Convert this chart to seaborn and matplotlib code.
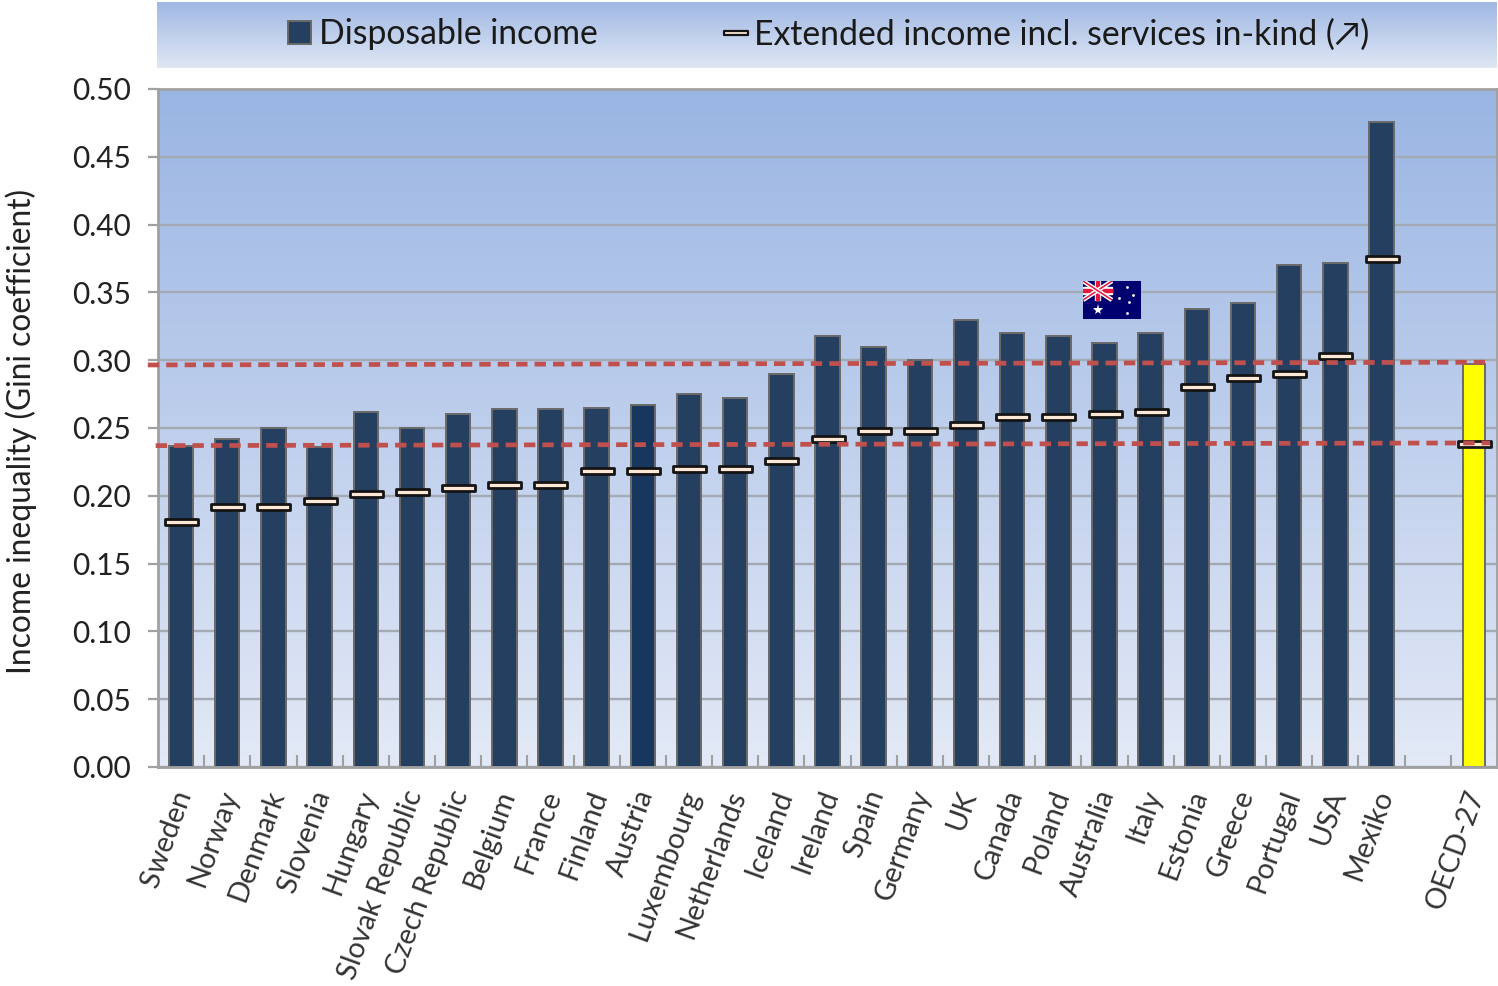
import matplotlib
matplotlib.use("Agg")
import matplotlib.pyplot as plt
import numpy as np
import pandas as pd
import seaborn as sns
from matplotlib.lines import Line2D
from matplotlib.markers import MarkerStyle
from matplotlib.patches import Patch, Rectangle
from matplotlib.path import Path
from matplotlib.ticker import MultipleLocator, FormatStrFormatter
from matplotlib.transforms import ScaledTranslation

countries = ["Sweden", "Norway", "Denmark", "Slovenia", "Hungary", "Slovak Republic",
             "Czech Republic", "Belgium", "France", "Finland", "Austria", "Luxembourg",
             "Netherlands", "Iceland", "Ireland", "Spain", "Germany", "UK", "Canada",
             "Poland", "Australia", "Italy", "Estonia", "Greece", "Portugal", "USA",
             "Mexiko", " ", "OECD-27"]
disposable = [0.237, 0.242, 0.250, 0.236, 0.262, 0.250, 0.260, 0.264, 0.264, 0.265,
              0.267, 0.275, 0.272, 0.290, 0.318, 0.310, 0.300, 0.330, 0.320, 0.318,
              0.313, 0.320, 0.338, 0.342, 0.370, 0.372, 0.476, np.nan, 0.297]
extended = [0.181, 0.192, 0.192, 0.196, 0.201, 0.203, 0.206, 0.208, 0.208, 0.218,
            0.218, 0.220, 0.220, 0.226, 0.242, 0.248, 0.248, 0.252, 0.258, 0.258,
            0.260, 0.262, 0.280, 0.287, 0.290, 0.303, 0.375, np.nan, 0.238]
oecd_disposable_line = [0.2965, 0.2985]
oecd_extended_line = [0.2370, 0.2390]

NAVY = "#243f60"
W, H = 1498, 986

sns.set_theme(style="white")
plt.rcParams["font.family"] = ["Lato", "DejaVu Sans"]
plt.rcParams["text.color"] = "#222222"

df = pd.DataFrame({"country": countries, "disposable": disposable, "extended": extended})
df["position"] = np.arange(len(df))

fig = plt.figure(figsize=(W / 100, H / 100), dpi=100, facecolor="white")
ax = fig.add_axes([158 / W, 1 - 767 / H, (1497 - 158) / W, (767 - 89) / H])

# Vertical blue wash behind the plot
gradient = np.linspace(0, 1, 256).reshape(-1, 1)
wash = matplotlib.colors.LinearSegmentedColormap.from_list("wash", ["#9ab5e3", "#e3e9f6"])
ax.imshow(gradient, cmap=wash, aspect="auto", extent=[0, 1, 0, 1],
          transform=ax.transAxes, zorder=0)

palette = {c: NAVY for c in countries}
palette["Austria"] = "#17375e"
palette["OECD-27"] = "#ffff00"
sns.barplot(data=df, x="country", y="disposable", hue="country", order=countries,
            hue_order=countries, palette=palette, legend=False, saturation=1,
            width=0.53, edgecolor="#6a6a6a", linewidth=1.4, ax=ax, zorder=2)

# The OECD bar is a little narrower than the national ones
for patch in ax.patches:
    if patch.get_facecolor()[:3] == (1.0, 1.0, 0.0):
        centre = patch.get_x() + patch.get_width() / 2
        patch.set_width(0.46)
        patch.set_x(centre - 0.23)

# Flat dash for the extended income measure
dash_path = Path([(-0.92, -0.19), (1.0, -0.19), (1.0, 0.19), (-0.92, 0.19), (-0.92, -0.19)],
                 closed=True)
sns.scatterplot(data=df, x="position", y="extended", marker=MarkerStyle(dash_path), s=620,
                color="#fde7d5", edgecolor="#141414", linewidth=2.0, ax=ax, zorder=3,
                legend=False)

# OECD reference levels carried across the chart
dash_style = (0, (2.4, 1.5))
ax.plot([-0.72, 28.24], oecd_disposable_line, ls=dash_style, color="#c0504d", lw=3.4,
        zorder=4, clip_on=False)
ax.plot([-0.55, 28.35], oecd_extended_line, ls=dash_style, color="#c0504d", lw=3.4,
        zorder=4, clip_on=False)

ax.set_xlim(-0.5, 28.5)
ax.set_ylim(0, 0.5)
ax.yaxis.set_major_locator(MultipleLocator(0.05))
ax.yaxis.set_major_formatter(FormatStrFormatter("%.2f"))
ax.grid(axis="y", color="#a3aab3", lw=1.7, zorder=1)
ax.set_axisbelow(True)
for spine in ax.spines.values():
    spine.set_color("#a0a0a0")
    spine.set_linewidth(2.0)
    spine.set_visible(True)

ax.set_xlabel("")
ax.set_ylabel("Income inequality (Gini coefficient)", fontsize=22.9, color="#222222",
              labelpad=25)
ax.yaxis.label.set_y((767 - 432) / (767 - 89))
ax.tick_params(axis="y", left=True, length=7.5, width=1.6, color="#a0a0a0", pad=12,
               labelsize=21.5, labelcolor="#222222")

ax.set_xticks(range(len(countries)))
ax.set_xticklabels(countries, rotation=70, ha="right", va="top", rotation_mode="anchor")
ax.set_xticks(np.arange(0.5, 28.5, 1), minor=True)
ax.tick_params(axis="x", which="major", bottom=False, length=0, pad=14, labelsize=20.8,
               labelcolor="#333333")
ax.tick_params(axis="x", which="minor", direction="in", bottom=True, length=9, width=1.5,
               color="#a0a0a0")
label_shift = ScaledTranslation(-9 / 100, 0, fig.dpi_scale_trans)
for label in ax.get_xticklabels():
    label.set_transform(label.get_transform() + label_shift)

# Legend band above the plot
band = fig.add_axes([157 / W, 1 - 68 / H, (1497 - 157) / W, (68 - 2) / H])
band_wash = matplotlib.colors.LinearSegmentedColormap.from_list("band", ["#9fb8e3", "#e0e7f5"])
band.imshow(gradient, cmap=band_wash, aspect="auto", extent=[0, 1, 0, 1])
band.set_axis_off()
handles = [
    Patch(facecolor=NAVY, edgecolor="#6a6a6a", linewidth=1.4),
    Line2D([], [], ls="none", marker=MarkerStyle(dash_path), markersize=18,
           markerfacecolor="#fde7d5", markeredgecolor="#141414", markeredgewidth=1.6),
]
band.legend(handles, ["Disposable income", "Extended income incl. services in-kind (↗)"],
            ncol=2, frameon=False, fontsize=24.3, loc="center", bbox_to_anchor=(0.5015, 0.51),
            handlelength=0.66, handleheight=0.7, handletextpad=0.24, columnspacing=3.75,
            labelcolor="#1a1a1a", borderaxespad=0)

# Australian flag marking the country of interest
flag = fig.add_axes([1083 / W, 1 - 319 / H, 58 / W, 38 / H], zorder=6)
flag.set_xlim(0, 2)
flag.set_ylim(0, 1)
flag.set_axis_off()
flag.add_patch(Rectangle((0, 0), 2, 1, color="#000070"))
for (x0, y0, x1, y1) in [(0, 0.5, 1.0, 1), (0, 1, 1.0, 0.5)]:
    flag.plot([x0, x1], [y0, y1], color="white", lw=3.2, solid_capstyle="butt")
    flag.plot([x0, x1], [y0, y1], color="#e4173e", lw=1.1, solid_capstyle="butt")
flag.add_patch(Rectangle((0.42, 0.5), 0.16, 0.5, color="white"))
flag.add_patch(Rectangle((0, 0.67), 1.0, 0.16, color="white"))
flag.add_patch(Rectangle((0.46, 0.5), 0.08, 0.5, color="#e4173e"))
flag.add_patch(Rectangle((0, 0.71), 1.0, 0.08, color="#e4173e"))
flag.plot([0.5], [0.25], marker="*", ms=8, color="white", mew=0)
flag.plot([1.5, 1.5, 1.25, 1.73, 1.6], [0.16, 0.83, 0.56, 0.63, 0.45],
          ls="none", marker="o", ms=2, color="white", mew=0)

fig.savefig("out.png", dpi=100, facecolor="white")
